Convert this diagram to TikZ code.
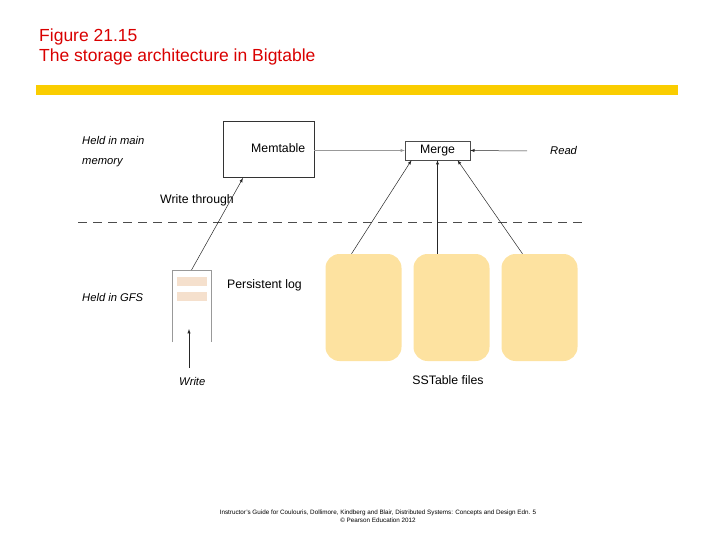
\documentclass[tikz,border=0pt]{standalone}
\usepackage{fontspec}
\setmainfont{Liberation Sans}
\begin{document}
\begin{tikzpicture}[x=1pt,y=-1pt,
  lbl/.style={inner sep=0,anchor=west,font=\fontsize{12.3}{13}\selectfont},
  ital/.style={inner sep=0,anchor=west,font=\fontsize{11.2}{20}\selectfont\itshape,align=left},
  arr/.style={-latex,draw=black!85,line width=0.5pt},
  sst/.style={fill=ssty,draw=none,rounded corners=14pt,minimum width=76pt,minimum height=107pt,inner sep=0}]
\definecolor{ssty}{RGB}{253,226,160}
\definecolor{bary}{RGB}{250,205,0}
\definecolor{logbar}{RGB}{245,224,205}
\useasboundingbox (0,0) rectangle (720,540);
\node[anchor=west,inner sep=0,text=red!85!black,font=\fontsize{17.5}{20}\selectfont] (t1) at (39,37) {Figure 21.15};
\node[anchor=west,inner sep=0,text=red!85!black,font=\fontsize{17.5}{20}\selectfont] (t2) at (39,57) {The storage architecture in Bigtable};
\fill[bary] (36,85) rectangle (678,95);
\node[draw=black!80,line width=0.8pt,minimum width=91pt,minimum height=56pt,inner sep=0] (mem) at (268.5,149) {};
\node[lbl] at (251,148) {Memtable};
\node[draw=black!70,minimum width=65pt,minimum height=19pt,inner sep=0,font=\fontsize{12.3}{13}\selectfont] (merge) at (437.5,150.5) {Merge};
\node[ital] (read) at (550,151) {Read};
\node[ital] (hm) at (82,152) {Held in main\\ memory};
\node[ital] (hg) at (82,297) {Held in GFS};
\draw[dashed,dash pattern=on 9pt off 6pt,black!70] (78,222) -- (585,222);
\coordinate (lt) at (191.5,270);
\draw[black!40] (172,342) -- (172,270) -- (211,270) -- (211,342);
\fill[logbar] (177,277) rectangle (207,286);
\fill[logbar] (177,292) rectangle (207,301);
\node[lbl] (pl) at (227,285) {Persistent log};
\node[ital] (wr) at (179,381) {Write};
\coordinate (wb) at (189,368);
\coordinate (wt) at (189,329);
\draw[arr] (wb) -- (wt);
\coordinate (mb) at (243,178);
\draw[arr] (lt) -- (mb);
\node[lbl,anchor=west] at (160,200) {Write through};
\draw[arr,black!40] (mem.east |- merge) -- (merge.west);
\draw[arr] (read.west) ++(-23,0) -- (merge.east);
\node[sst] (s1) at (363.5,307.5) {};
\node[sst] (s2) at (451.5,307.5) {};
\node[sst] (s3) at (539.5,307.5) {};
\draw[arr] ([xshift=-12pt]s1.north) -- ([xshift=-26pt]merge.south);
\draw[arr] ([xshift=-14pt]s2.north) -- ([xshift=0pt]merge.south);
\draw[arr] ([xshift=-17pt]s3.north) -- ([xshift=20pt]merge.south);
\node[lbl,anchor=center] (sf) at (448,380) {SSTable files};
\node[inner sep=0,align=center,font=\fontsize{6.3}{8}\selectfont] (fn) at (378,516) {Instructor's Guide for Coulouris, Dollimore, Kindberg and Blair, Distributed Systems: Concepts and Design Edn. 5\\ \copyright{} Pearson Education 2012};
\end{tikzpicture}
\end{document}
